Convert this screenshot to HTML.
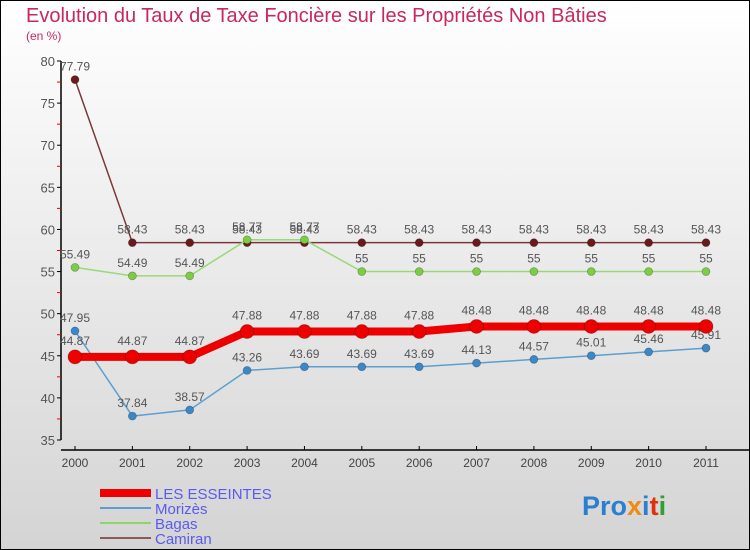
<!DOCTYPE html>
<html><head><meta charset="utf-8"><style>
html,body{margin:0;padding:0;}
body{width:750px;height:550px;overflow:hidden;font-family:"Liberation Sans","DejaVu Sans",sans-serif;}
</style></head><body>
<svg id="chart" width="750" height="550" xmlns="http://www.w3.org/2000/svg" style="display:block">
<defs><linearGradient id="bg" x1="0" y1="0" x2="0" y2="1"><stop offset="0" stop-color="#ffffff"/><stop offset="1" stop-color="#d4d4d4"/></linearGradient></defs>
<rect x="0.5" y="0.5" width="749" height="549" fill="url(#bg)" stroke="#000"/>
<text x="26" y="22" font-size="20" fill="#c8285a">Evolution du Taux de Taxe Foncière sur les Propriétés Non Bâties</text>
<text x="26" y="40" font-size="12" fill="#c8285a">(en %)</text>
<g id="axes"></g><g id="series"></g>
<g>
<rect x="100" y="489" width="51" height="8" fill="#ee0000"/>
<text x="155" y="499" font-size="15" fill="#5a5af0">LES ESSEINTES</text>
<rect x="100" y="507" width="51" height="2" fill="#5b9fd0"/>
<text x="155" y="514" font-size="15" fill="#5a5af0">Morizès</text>
<rect x="100" y="522" width="51" height="2" fill="#8ed46a"/>
<text x="155" y="529" font-size="15" fill="#5a5af0">Bagas</text>
<rect x="100" y="537" width="51" height="2" fill="#8a5a5a"/>
<text x="155" y="544" font-size="15" fill="#5a5af0">Camiran</text>
</g>
<text x="582" y="515" font-size="27" font-weight="bold"><tspan fill="#2a7fd0">Pro</tspan><tspan fill="#f08a10">x</tspan><tspan fill="#2a7fd0">i</tspan><tspan fill="#e03010">t</tspan><tspan fill="#30a030">i</tspan></text>
</svg>
<script>
const years=[2000,2001,2002,2003,2004,2005,2006,2007,2008,2009,2010,2011];
const yTicks=[35,40,45,50,55,60,65,70,75,80];
const esseintes=[44.87,44.87,44.87,47.88,47.88,47.88,47.88,48.48,48.48,48.48,48.48,48.48];
const morizes=[47.95,37.84,38.57,43.26,43.69,43.69,43.69,44.13,44.57,45.01,45.46,45.91];
const bagas=[55.49,54.49,54.49,58.77,58.77,55,55,55,55,55,55,55];
const camiran=[77.79,58.43,58.43,58.43,58.43,58.43,58.43,58.43,58.43,58.43,58.43,58.43];
const NS="http://www.w3.org/2000/svg";
const xS=i=>75+i*(706-75)/11;
const yS=v=>440-(v-35)*(440-61)/45;
function mk(tag,attrs,parent,txt){const e=document.createElementNS(NS,tag);for(const k in attrs)e.setAttribute(k,attrs[k]);if(txt!==undefined)e.textContent=txt;parent.appendChild(e);return e;}
const ax=document.getElementById('axes');
let l=mk('line',{x1:61,y1:61,x2:61,y2:440,stroke:'#000','stroke-width':1.5},ax);


yTicks.forEach(t=>{mk('line',{x1:57,y1:yS(t),x2:61,y2:yS(t),stroke:'#000'},ax);
 const tx=mk('text',{x:55,y:yS(t)+5,'font-size':13,fill:'#555','text-anchor':'end'},ax,t);
 
 
 if(t<80)mk('line',{x1:57,y1:yS(t+2.5),x2:61,y2:yS(t+2.5),stroke:'#e00'},ax);});
l=mk('line',{x1:61,y1:450,x2:750,y2:450,stroke:'#000','stroke-width':1.5},ax);


years.forEach((y,i)=>{mk('line',{x1:xS(i),y1:446,x2:xS(i),y2:450,stroke:'#000'},ax);
 const tx=mk('text',{x:xS(i),y:467,'font-size':12,fill:'#444','text-anchor':'middle'},ax,y);
 
 });
const sg=document.getElementById('series');
function series(name,vals,color,w,r,dot){
 const g=mk('g',{},sg);
 
 
 mk('polyline',{points:vals.map((v,i)=>xS(i)+','+yS(v)).join(' '),fill:'none',stroke:color,'stroke-width':w,'stroke-linejoin':'round'},g);
 vals.forEach((v,i)=>{const c=mk('circle',{cx:xS(i),cy:yS(v),r:r,fill:dot,stroke:'rgba(0,0,0,0.3)','stroke-width':0.7},g);
  
  
  const t=mk('text',{x:xS(i),y:yS(v)-9-(r>5?3:0),'font-size':12,fill:'#555','text-anchor':'middle'},g,String(v));
  
  });
}
series('camiran',camiran,'#7a3a3a',1.5,4,'#6a1a1a');
series('bagas',bagas,'#9ad87a',1.5,4,'#7ccc44');
series('morizes',morizes,'#5b9fd0',1.5,4,'#3a88c8');
series('les-esseintes',esseintes,'#ee0000',8,7,'#ee0000');
</script>
</body></html>
